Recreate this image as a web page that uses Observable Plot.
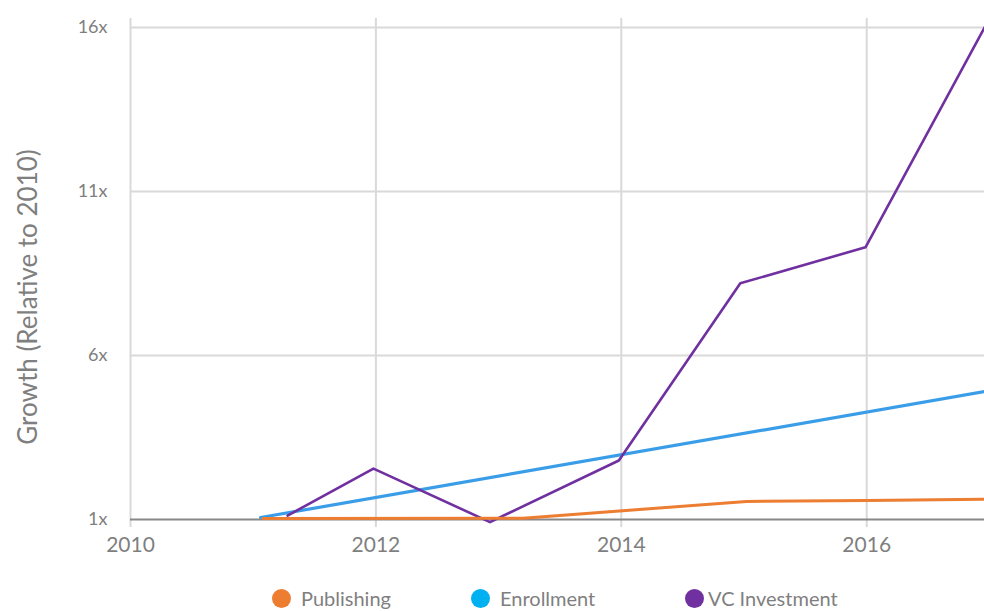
<!DOCTYPE html>
<html>
<head>
<meta charset="utf-8">
<script src="https://cdn.jsdelivr.net/npm/d3@7"></script>
<script src="https://cdn.jsdelivr.net/npm/@observablehq/plot@0.6"></script>
<style>
  html, body { margin: 0; padding: 0; background: #fff; }
  #wrap { position: relative; width: 984px; height: 611px; overflow: hidden; font-family: Lato, "Open Sans", sans-serif; color: #7f7f7f; }
  #chart { position: absolute; left: 0; top: 0; }
  #ytitle { position: absolute; left: 27px; top: 297px; transform: translate(-50%, -50%) rotate(-90deg); white-space: nowrap; font-size: 26px; }
  .leg { position: absolute; top: 587px; display: flex; align-items: center; font-size: 20px; line-height: 22px; white-space: nowrap; }
  .leg span.dot { display: inline-block; width: 19px; height: 19px; border-radius: 50%; }
</style>
</head>
<body>
<div id="wrap">
  <div id="chart"></div>
  <div id="ytitle">Growth (Relative to 2010)</div>
  <div id="legend"></div>
</div>
<script>
// Data
const xTicks = [2010, 2012, 2014, 2016];
const yTicks = [1, 6, 11, 16];
const yGrid = [6, 11, 16];

const seriesNames = ["Publishing", "Enrollment", "VC Investment"];
const lineColors = ["#ED7D31", "#3A9DE8", "#7030A0"];
const legendColors = ["#ED7D31", "#00B0F0", "#7030A0"];

const publishingYears = [2011.08, 2013.2, 2015.02, 2016.0, 2016.96];
const publishingValues = [1.03, 1.04, 1.55, 1.58, 1.62];

const enrollmentYears = [2011.06, 2016.96];
const enrollmentValues = [1.06, 4.9];

const vcYears = [2011.28, 2011.98, 2012.93, 2013.98, 2014.97, 2015.99, 2016.96];
const vcValues = [1.12, 2.55, 0.92, 2.8, 8.2, 9.3, 16];

const toRows = (name, xs, ys) => xs.map((x, i) => ({series: name, year: x, value: ys[i]}));
const pub = toRows(seriesNames[0], publishingYears, publishingValues);
const enr = toRows(seriesNames[1], enrollmentYears, enrollmentValues);
const vc = toRows(seriesNames[2], vcYears, vcValues);

const chart = Plot.plot({
  width: 984,
  height: 575,
  marginLeft: 130,
  marginRight: 0,
  marginTop: 27,
  marginBottom: 56,
  style: {fontFamily: "Lato, 'Open Sans', sans-serif", color: "#7f7f7f", background: "white", overflow: "visible"},
  x: {domain: [2010, 2016.96]},
  y: {domain: [1, 16]},
  marks: [
    Plot.gridX(xTicks, {stroke: "#d9d9d9", strokeOpacity: 1, strokeWidth: 2, insetTop: -9, insetBottom: -8}),
    Plot.gridY(yGrid, {stroke: "#d9d9d9", strokeOpacity: 1, strokeWidth: 2}),
    Plot.ruleY([1], {stroke: "#888888", strokeWidth: 2}),
    Plot.axisX(xTicks, {tickSize: 0, tickPadding: 18, fontSize: 21, tickFormat: d => String(d), label: null}),
    Plot.axisY(yTicks, {tickSize: 0, tickPadding: 23, fontSize: 18, tickFormat: d => d + "x", label: null}),
    Plot.line(enr, {x: "year", y: "value", stroke: lineColors[1], strokeWidth: 3.2}),
    Plot.line(vc, {x: "year", y: "value", stroke: lineColors[2], strokeWidth: 2.6}),
    Plot.line(pub, {x: "year", y: "value", stroke: lineColors[0], strokeWidth: 3})
  ]
});
document.getElementById("chart").appendChild(chart);

// Legend
const legendLeft = [272, 471, 685];
const legend = document.getElementById("legend");
seriesNames.forEach((name, i) => {
  const d = document.createElement("div");
  d.className = "leg";
  d.style.left = legendLeft[i] + "px";
  d.innerHTML = `<span class="dot" style="background:${legendColors[i]}"></span><span style="margin-left:${i === 2 ? 4 : 10}px">${name}</span>`;
  legend.appendChild(d);
});
</script>
</body>
</html>
